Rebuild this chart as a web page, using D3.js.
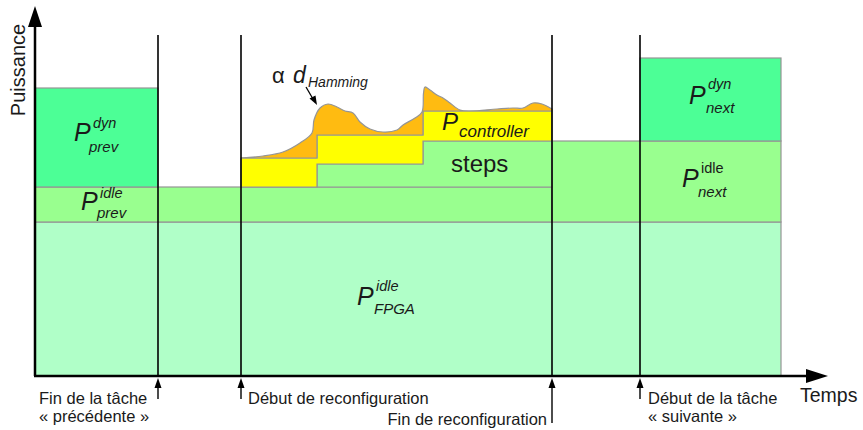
<!DOCTYPE html>
<html><head><meta charset="utf-8">
<script src="https://cdn.jsdelivr.net/npm/d3@7"></script>
<style>
html,body{margin:0;padding:0;background:#fff;}
svg{display:block;font-family:"Liberation Sans",Arial,sans-serif;}
</style></head>
<body>
<svg id="c" width="863" height="430"></svg>
<script>
// ---- data (time units / power units, arbitrary) ----
const tEnd = 795;            // x axis extent
const pEnd = 370;            // y axis extent
const eventTimes = [123, 206, 517, 605];
const eventTop = 341;
const taskEnd = 746;
const fpgaIdle = 154;        // P_FPGA idle level
const prevIdle = 189;        // + P_prev idle
const prevDyn = 288;         // + P_prev dyn
const nextIdle = 235;        // + P_next idle
const nextDyn = 318;         // + P_next dyn
const stepTimes = [206, 282, 388, 517];
const stepLevels = [189, 212, 235];
const controllerLevels = [218, 241, 265];
const hamming = [
  [206,218],[228,220],[248,224],[265,233],[277,243],[279,256],[285,268],[293,272],
  [302,269],[310,265],[318,263],[325,254],[335,247],[348,244],[362,246],[368,251],
  [380,258],[387,264],[388.5,283],[390,289],[395,286],[402,281],[408,278],[415,273],
  [425,266],[435,265],[462,267],[478,268],[488,268],[498,273],[507,272],[517,267]
];
const eventLabels = [
  ["Fin de la tâche", "« précédente »"],
  ["Début de reconfiguration"],
  ["Fin de reconfiguration"],
  ["Début de la tâche", "« suivante »"]
];
const axisLabels = {x: "Temps", y: "Puissance"};

// ---- scales ----
const svg = d3.select("#c");
const x = d3.scaleLinear().domain([0, tEnd]).range([35, 830]);
const y = d3.scaleLinear().domain([0, pEnd]).range([376, 6]);

const C = {base:"#b0ffc8", idle:"#99ff8f", dyn:"#4cff96", yellow:"#ffff00", orange:"#ffbb11", edge:"#959595", ink:"#1a1a1a"};

function rect(t0, t1, p0, p1, fill) {
  svg.append("rect")
    .attr("x", x(t0)).attr("y", y(p1))
    .attr("width", x(t1) - x(t0)).attr("height", y(p0) - y(p1))
    .attr("fill", fill).attr("stroke", C.edge).attr("stroke-width", 1.2);
}

// base FPGA idle
rect(0, taskEnd, 0, fpgaIdle, C.base);
// prev idle band (up to end of reconfiguration)
rect(0, eventTimes[2], fpgaIdle, prevIdle, C.idle);
// next idle
rect(eventTimes[2], taskEnd, fpgaIdle, nextIdle, C.idle);
// prev dyn
rect(0, eventTimes[0], prevIdle, prevDyn, C.dyn);
// next dyn
rect(eventTimes[3], taskEnd, nextIdle, nextDyn, C.dyn);

// step polygons
function stepPts(levels) {
  const pts = [];
  levels.forEach((l, i) => { pts.push([stepTimes[i], l]); pts.push([stepTimes[i+1], l]); });
  return pts;
}
const lin = d3.line().x(d => x(d[0])).y(d => y(d[1]));
const stepsTop = stepPts(stepLevels);
const ctrlTop = stepPts(controllerLevels);

// green steps
svg.append("path")
  .attr("d", lin([[stepTimes[0], prevIdle], ...stepsTop, [stepTimes[3], prevIdle]]) + "Z")
  .attr("fill", C.idle).attr("stroke", C.edge).attr("stroke-width", 1.2);
// yellow controller band
svg.append("path")
  .attr("d", lin([...ctrlTop, ...stepsTop.slice().reverse()]) + "Z")
  .attr("fill", C.yellow).attr("stroke", C.edge).attr("stroke-width", 1.2);
// orange hamming area
const curve = d3.line().x(d => x(d[0])).y(d => y(d[1])).curve(d3.curveCatmullRom.alpha(0.5));
svg.append("path")
  .attr("d", curve(hamming) + lin(ctrlTop.slice().reverse()).replace(/^M/, "L") + "Z")
  .attr("fill", C.orange).attr("stroke", C.edge).attr("stroke-width", 1.2);

// event vertical lines
eventTimes.forEach(t => {
  svg.append("line").attr("x1", x(t)).attr("x2", x(t)).attr("y1", y(eventTop)).attr("y2", y(0))
    .attr("stroke", "#000").attr("stroke-width", 1.6);
});

// axes
svg.append("line").attr("x1", x(0)).attr("x2", x(0)).attr("y1", y(0)).attr("y2", 26)
  .attr("stroke", "#000").attr("stroke-width", 2.5);
svg.append("path").attr("d", `M${x(0)},6 L${x(0)-7},27 L${x(0)+7},27 Z`).attr("fill", "#000");
svg.append("line").attr("x1", x(0) - 1).attr("x2", 808).attr("y1", y(0)).attr("y2", y(0))
  .attr("stroke", "#000").attr("stroke-width", 2.5);
svg.append("path").attr("d", `M828,${y(0)} L806,${y(0)-7} L806,${y(0)+7} Z`).attr("fill", "#000");

// event arrows below the axis
const arrowLen = [21, 21, 45, 21];
eventTimes.forEach((t, i) => {
  const xx = x(t), y0 = y(0) + 2;
  svg.append("line").attr("x1", xx).attr("x2", xx).attr("y1", y0 + 6).attr("y2", y0 + arrowLen[i])
    .attr("stroke", "#000").attr("stroke-width", 1.4);
  svg.append("path").attr("d", `M${xx},${y0} L${xx-3.5},${y0+10} L${xx+3.5},${y0+10} Z`).attr("fill", "#000");
});

// event labels
const lab = (txt, xx, yy, anchor) => svg.append("text").attr("x", xx).attr("y", yy)
  .attr("text-anchor", anchor || "start").attr("font-size", 16.5).attr("fill", C.ink).text(txt);
lab(eventLabels[0][0], 39, 404); lab(eventLabels[0][1], 39, 422);
lab(eventLabels[1][0], x(eventTimes[1]) + 7, 404);
lab(eventLabels[2][0], x(eventTimes[2]) - 5, 425, "end");
lab(eventLabels[3][0], x(eventTimes[3]) + 8, 404); lab(eventLabels[3][1], x(eventTimes[3]) + 8, 422);

// axis labels
svg.append("text").attr("x", 800).attr("y", 402).attr("font-size", 19.5).attr("fill", C.ink).text(axisLabels.x);
svg.append("text").attr("transform", "translate(25,70) rotate(-90)").attr("text-anchor", "middle")
  .attr("font-size", 20).attr("fill", C.ink).text(axisLabels.y);

// P labels
function pLabel(px, py, sup, sub, o) {
  o = o || {};
  const g = svg.append("g").attr("fill", C.ink);
  g.append("text").attr("x", px).attr("y", py).attr("font-size", 25).attr("font-style", "italic").text("P");
  g.append("text").attr("x", px + (o.supDx ?? 19)).attr("y", py - (o.supDy ?? 13)).attr("font-size", 14.5)
    .attr("font-style", o.supUpright ? "normal" : "italic").text(sup);
  g.append("text").attr("x", px + (o.subDx ?? 15)).attr("y", py + (o.subDy ?? 11)).attr("font-size", 15)
    .attr("font-style", "italic").text(sub);
}
pLabel(74, 141, "dyn", "prev");
pLabel(81, 210, "idle", "prev", {supDy: 12, subDy: 8, subDx: 16});
pLabel(357, 305, "idle", "FPGA", {supDy: 14, subDy: 9, subDx: 17});
pLabel(689, 104, "dyn", "next", {supDy: 15, subDy: 9, subDx: 17});
pLabel(682, 187, "idle", "next", {supDy: 14, subDy: 10, subDx: 16, supUpright: true});

// P controller
svg.append("text").attr("x", 442).attr("y", 130).attr("font-size", 24).attr("font-style", "italic").attr("fill", C.ink).text("P");
svg.append("text").attr("x", 459).attr("y", 137).attr("font-size", 17).attr("font-style", "italic").attr("fill", C.ink).text("controller");
// steps
svg.append("text").attr("x", 451).attr("y", 172).attr("font-size", 24).attr("fill", C.ink).text("steps");
// alpha d Hamming
svg.append("text").attr("x", 272).attr("y", 83).attr("font-size", 22).attr("fill", C.ink).text("α");
svg.append("text").attr("x", 293).attr("y", 83).attr("font-size", 23).attr("font-style", "italic").attr("fill", C.ink).text("d");
svg.append("text").attr("x", 308).attr("y", 87).attr("font-size", 14).attr("font-style", "italic").attr("fill", C.ink).text("Hamming");
svg.append("line").attr("x1", 306).attr("y1", 87).attr("x2", 313).attr("y2", 99).attr("stroke", "#000").attr("stroke-width", 1.3);
svg.append("path").attr("d", "M317,105 L309.5,98.5 L315.5,95.5 Z").attr("fill", "#000");
</script>
</body></html>
